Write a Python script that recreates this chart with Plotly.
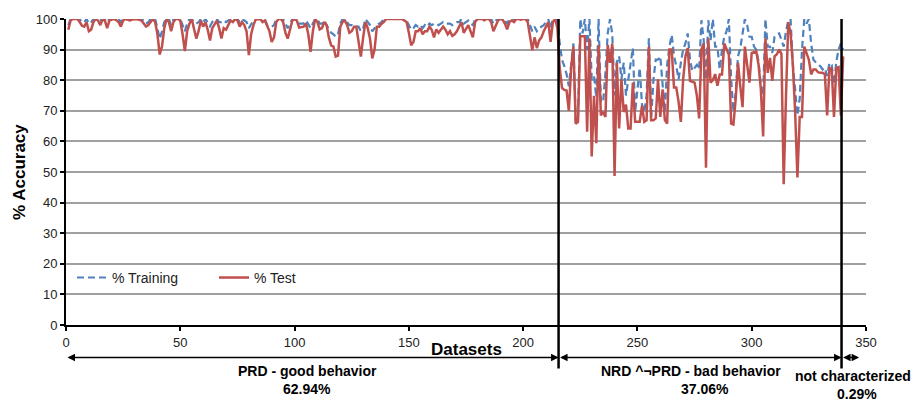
import plotly.graph_objects as go

# ---------------- data ----------------
dataset_idx = list(range(1, 341))

test_pct = [
    96.5, 99.5, 100, 100, 100, 99, 97.8, 97.5, 99, 96,
    96.5, 99, 100, 99.5, 98, 99.8, 99.5, 97, 99.5, 99.8,
    100, 99.6, 99, 97.5, 99.5, 100, 99.8, 99.5, 99.8, 100,
    100, 99.7, 99.5, 98.5, 97.5, 98, 99, 100, 99, 95,
    88.4, 91, 97, 100, 99, 96, 99, 100, 100, 99.5,
    95, 89.5, 96, 98.5, 100, 97, 93.6, 96, 99.5, 97.5,
    99, 96.5, 93, 97, 98.5, 99.5, 97, 93.6, 97, 96.5,
    98, 99.5, 99, 100, 99.6, 97.5, 99, 98, 96, 88.2,
    95, 98, 99.8, 100, 100, 99, 99.5, 97.8, 96, 92.5,
    94, 99, 100, 100, 99, 95.5, 93.6, 96.5, 99.5, 100,
    99.5, 97.2, 97.3, 97.5, 98.5, 95, 89.3, 96, 100, 99,
    96.6, 97, 99, 98, 94, 91.4, 91, 87.7, 88, 97.5,
    99, 99.5, 98, 95.5, 96, 97.5, 97.5, 92, 87.7, 94,
    99, 97, 93.6, 87.1, 90, 97.5, 97.5, 98.4, 99, 100,
    100, 99.8, 100, 100, 99.8, 100, 100, 99.5, 99, 95.5,
    91.4, 92.5, 96, 96, 97, 95, 96, 96, 97.5, 96.5,
    94, 96.6, 95.5, 96.5, 97.5, 96.5, 95, 96, 94.5, 95,
    96, 97.5, 99, 95.5, 97, 98, 96, 94, 99, 100,
    100, 100, 99.6, 100, 100, 99, 96, 98, 99.5, 100,
    99.8, 98.5, 96.6, 99, 99.5, 99, 100, 100, 99.8, 100,
    100, 99, 94, 89.8, 94, 90.5, 93, 94, 96, 97.5,
    99, 92.5, 99, 100, 97, 84, 77.5, 76.8, 76.6, 70,
    84, 91, 65.8, 66.4, 94.4, 94.4, 94.4, 63.2, 93.7, 55.1,
    74.9, 59.4, 91.5, 68.5, 69.6, 68, 91.5, 85.7, 92, 48.7,
    85.7, 64.2, 80.3, 69.6, 72, 64.2, 64.2, 79.2, 66.4, 66.4,
    66.4, 71.7, 66.4, 66.9, 91, 66.9, 66.9, 67.5, 80.3, 68,
    77, 67, 65.8, 90, 90, 77.6, 77.6, 73, 66.4, 80.3,
    87.8, 90.5, 79.8, 79.5, 79.2, 75, 67.5, 90, 92, 51.4,
    93.7, 79.2, 80, 82, 78.2, 81.9, 81.9, 92, 90, 88.3,
    65.8, 65.5, 73.9, 85.7, 78, 71.2, 91, 85, 79.2, 88.9,
    89.2, 89.4, 85, 77, 61.6, 93.7, 82.4, 87.3, 79.8, 87.8,
    88.5, 90, 88.6, 46, 74.9, 99, 95.3, 85, 69.6, 48.2,
    68, 68, 91, 88.6, 86.7, 81.9, 83.5, 83.5, 82.6, 82.4,
    82.4, 82, 68.5, 84, 83.7, 68, 84, 84.3, 68.5, 87.8,
]

training_pct = [
    98, 100, 100, 100, 100, 100, 99, 99, 100, 98.5,
    99, 100, 100, 100, 99.5, 100, 100, 99, 100, 100,
    100, 100, 100, 99, 100, 100, 100, 100, 100, 100,
    100, 100, 100, 99.5, 98.5, 99, 100, 100, 100, 97,
    93.5, 96, 99, 100, 100, 98, 100, 100, 100, 100,
    98, 96, 98.5, 100, 100, 99, 98.5, 99, 100, 99,
    100, 99, 97.6, 99, 100, 100, 99, 99, 99.5, 99,
    99.5, 100, 100, 100, 100, 99, 100, 99.5, 99, 97,
    98.5, 99.5, 100, 100, 100, 100, 100, 98, 97.5, 97.5,
    98, 100, 100, 100, 100, 98.5, 97, 98.5, 100, 100,
    99, 98.5, 98.5, 98.5, 99.5, 98, 97, 98.5, 100, 100,
    98.5, 98.5, 99.5, 98, 96.5, 95.5, 95, 94.2, 95, 98.5,
    100, 100, 99, 98, 98, 97.5, 97.5, 97.5, 96, 97,
    100, 99, 98, 96, 97, 98, 98.5, 99, 100, 100,
    100, 100, 100, 100, 100, 100, 100, 100, 99.5, 98,
    96.5, 97, 98, 97.5, 98, 97, 98, 97.5, 98.5, 98,
    98.5, 98.5, 98, 98.5, 99, 98.5, 98.5, 98.5, 98, 98.5,
    99, 99, 100, 98.5, 99, 99.5, 98.5, 98, 100, 100,
    100, 100, 100, 100, 100, 100, 98.5, 99.5, 100, 100,
    100, 99.5, 98.5, 100, 100, 100, 100, 100, 100, 100,
    100, 100, 98, 96, 97.5, 96, 97, 97.5, 98, 99,
    100, 97, 100, 100, 100, 92, 86.7, 84.6, 82, 78,
    85, 92, 66.4, 68, 100, 95.3, 100, 90, 100, 80.3,
    81.4, 74.4, 100, 72.8, 72.8, 82.4, 95.3, 100, 95, 75,
    86, 87.8, 80.3, 85.7, 75, 80.3, 85, 90.5, 69.6, 78.2,
    84, 72, 69.6, 75, 93.7, 67.5, 80, 86.7, 86.7, 87.8,
    78, 69.6, 85, 91, 94.8, 88, 84.6, 80.3, 85.7, 90,
    92, 95.3, 86.7, 83, 84, 85, 83.5, 99.6, 93, 80.3,
    99.6, 93, 100, 91, 91, 83.5, 90, 94.2, 96, 100,
    80.3, 69.6, 76, 87.8, 90.5, 95, 100, 98, 94.2, 94.2,
    91, 90, 86, 78, 75, 100, 91, 91, 88.9, 94.2,
    95, 95.3, 93, 91, 96, 99.6, 100, 85, 77, 68.5,
    73.9, 90, 100, 98.5, 100, 92, 86.7, 85.7, 85, 84.6,
    83.5, 84, 81.4, 85.7, 85, 78.7, 86, 90, 92, 90,
]

section_bounds = [0, 215.5, 339.3, 347]
section_names = ["PRD - good behavior", "NRD ^¬PRD - bad behavior", "not characterized"]
section_shares = ["62.94%", "37.06%", "0.29%"]

x_ticks = [0, 50, 100, 150, 200, 250, 300, 350]
y_ticks = [0, 10, 20, 30, 40, 50, 60, 70, 80, 90, 100]

FONT = "Arial, 'Liberation Sans', Helvetica, sans-serif"
BLUE = "#4F81BD"
RED = "#C0504D"

fig = go.Figure()
fig.add_trace(go.Scatter(
    x=dataset_idx, y=training_pct, mode="lines", name="% Training",
    line=dict(color=BLUE, width=2.2, dash="7px,4px"),
))
fig.add_trace(go.Scatter(
    x=dataset_idx, y=test_pct, mode="lines", name="% Test",
    line=dict(color=RED, width=2.5),
))

# vertical section separators
for xb in section_bounds[1:3]:
    fig.add_shape(type="line", xref="x", yref="paper", x0=xb, x1=xb, y0=1, y1=-0.142,
                  line=dict(color="black", width=2.5))

# double-headed arrows below the axis
arrow_y = -0.106
for i in range(3):
    fig.add_annotation(
        xref="x", yref="paper", axref="x", ayref="pixel",
        x=section_bounds[i + 1], y=arrow_y, ax=section_bounds[i], ay=0,
        showarrow=True, arrowhead=2, startarrowhead=2, arrowside="end+start",
        arrowsize=1, arrowwidth=1.5, arrowcolor="black", text="",
    )

# section labels (pixel-based positions converted to paper coords)
L, R, T, B = 66, 51, 13, 77
PW, PH = 917 - L - R, 402 - T - B


def px_to_paper_x(px):
    return (px - L) / PW


def py_to_paper_y(py):
    return (402 - B - py) / PH


name_pos = [(307, 372), (691, 372), (853, 377)]
share_pos = [(307, 390), (705, 390), (857, 395)]
for i in range(3):
    fig.add_annotation(xref="paper", yref="paper", x=px_to_paper_x(name_pos[i][0]),
                       y=py_to_paper_y(name_pos[i][1]), text="<b>%s</b>" % section_names[i],
                       showarrow=False, xanchor="center", yanchor="middle",
                       font=dict(family=FONT, size=14, color="black"))
    fig.add_annotation(xref="paper", yref="paper", x=px_to_paper_x(share_pos[i][0]),
                       y=py_to_paper_y(share_pos[i][1]), text="<b>%s</b>" % section_shares[i],
                       showarrow=False, xanchor="center", yanchor="middle",
                       font=dict(family=FONT, size=14, color="black"))

# axis titles
fig.add_annotation(xref="paper", yref="paper", x=0.5, y=py_to_paper_y(350),
                   text="<b>Datasets</b>", showarrow=False, xanchor="center", yanchor="middle",
                   font=dict(family=FONT, size=17, color="black"))
fig.add_annotation(xref="paper", yref="paper", x=px_to_paper_x(19), y=0.5,
                   text="<b>% Accuracy</b>", showarrow=False, textangle=-90,
                   xanchor="center", yanchor="middle",
                   font=dict(family=FONT, size=17, color="black"))

fig.update_layout(
    width=917, height=402,
    margin=dict(l=L, r=R, t=T, b=B),
    paper_bgcolor="white", plot_bgcolor="white",
    font=dict(family=FONT, size=13, color="#222"),
    showlegend=True,
    legend=dict(orientation="h", x=px_to_paper_x(72), y=py_to_paper_y(277),
                xanchor="left", yanchor="middle", bgcolor="rgba(0,0,0,0)",
                entrywidth=97, entrywidthmode="pixels",
                font=dict(family=FONT, size=14, color="#222")),
)
fig.update_xaxes(range=[0, 350], tickvals=x_ticks, ticktext=[str(v) for v in x_ticks],
                 showgrid=False, zeroline=False, showline=True, linecolor="black",
                 linewidth=2, ticks="outside", ticklen=4, tickwidth=1.5, tickcolor="black",
                 tickfont=dict(family=FONT, size=13, color="#222"))
fig.update_yaxes(range=[0, 100], tickvals=y_ticks, ticktext=[str(v) for v in y_ticks],
                 showgrid=True, gridcolor="#a0a0a0", gridwidth=1.5, zeroline=False,
                 showline=True, linecolor="black", linewidth=2, ticks="outside",
                 ticklen=4, tickwidth=1.5, tickcolor="black",
                 tickfont=dict(family=FONT, size=13, color="#222"))

fig.write_html("out.html")
